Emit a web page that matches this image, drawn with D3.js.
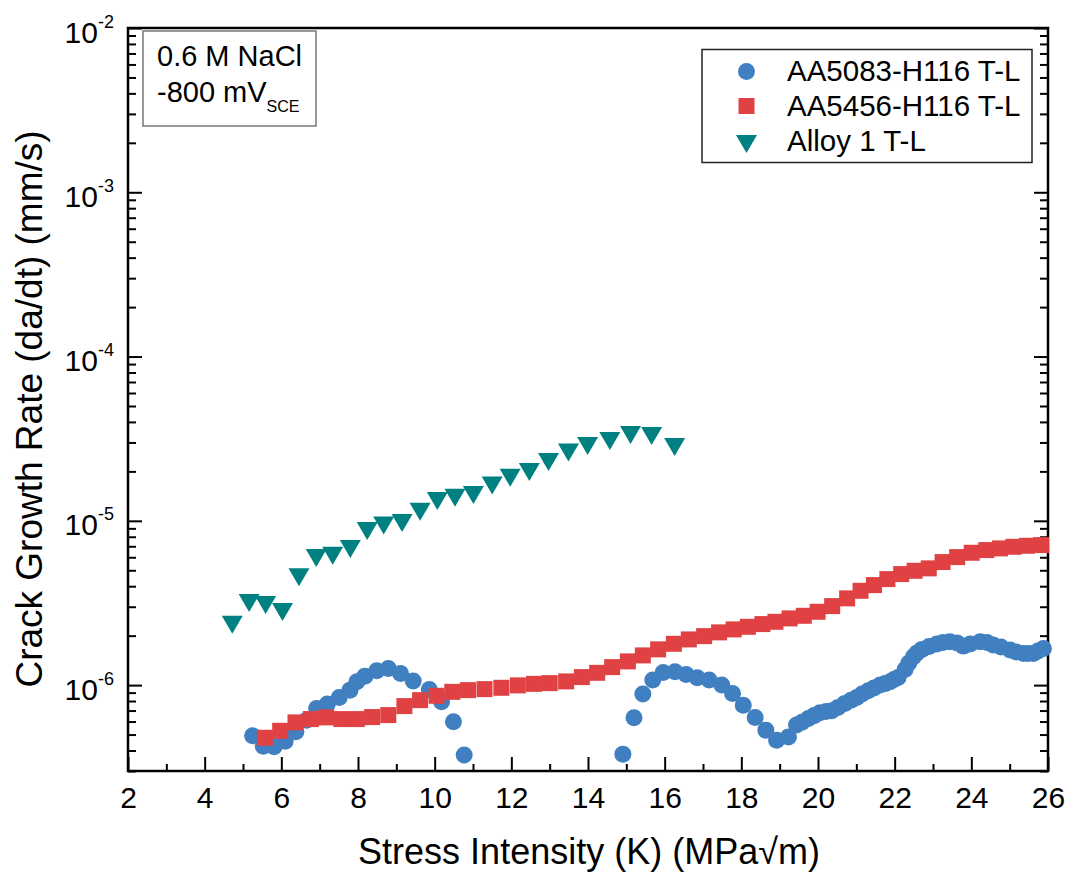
<!DOCTYPE html>
<html>
<head>
<meta charset="utf-8">
<script src="https://cdn.jsdelivr.net/npm/d3@7"></script>
<style>
  html, body { margin: 0; padding: 0; background: #fff; }
  svg text { font-family: Arial, "Liberation Sans", sans-serif; fill: #000; }
</style>
</head>
<body>
<svg id="chart" width="1067" height="875"></svg>
<script>
// Stress intensity K (MPa·√m) and crack growth rate da/dt (mm/s)
const kAA5083 = [5.25, 5.53, 5.81, 6.10, 6.38, 6.66, 6.92, 7.20, 7.51, 7.79, 7.97, 8.18, 8.49, 8.79, 9.11, 9.44, 9.86, 10.18, 10.49, 10.77,
  14.91, 15.20, 15.43, 15.69, 15.96, 16.27, 16.56, 16.85, 17.16, 17.49, 17.77, 18.05, 18.36, 18.64, 18.92, 19.23, 19.44,
  19.58, 19.75, 19.90, 20.05, 20.21, 20.36, 20.52, 20.70, 20.86, 21.01, 21.15, 21.31, 21.46, 21.62, 21.75, 21.88, 21.98, 22.09,
  22.27, 22.37, 22.49, 22.58, 22.71, 22.90, 23.10, 23.26, 23.44, 23.63, 23.79, 23.97, 24.23, 24.41, 24.57, 24.77, 25.01, 25.17,
  25.36, 25.48, 25.62, 25.74, 25.88];
const rateAA5083 = [4.91e-7, 4.25e-7, 4.21e-7, 4.56e-7, 5.20e-7, 6.12e-7, 7.21e-7, 7.66e-7, 8.41e-7, 9.32e-7, 1.047e-6, 1.134e-6, 1.222e-6, 1.264e-6, 1.178e-6, 1.058e-6, 9.41e-7, 7.91e-7, 5.98e-7, 3.75e-7,
  3.80e-7, 6.32e-7, 8.82e-7, 1.073e-6, 1.195e-6, 1.205e-6, 1.162e-6, 1.108e-6, 1.073e-6, 1.000e-6, 8.90e-7, 7.55e-7, 6.36e-7, 5.32e-7, 4.62e-7, 4.84e-7, 5.71e-7,
  5.95e-7, 6.27e-7, 6.52e-7, 6.78e-7, 6.90e-7, 6.98e-7, 7.30e-7, 7.74e-7, 8.10e-7, 8.41e-7, 8.82e-7, 9.23e-7, 9.59e-7, 1.000e-6, 1.021e-6, 1.047e-6, 1.080e-6, 1.114e-6,
  1.246e-6, 1.361e-6, 1.487e-6, 1.566e-6, 1.650e-6, 1.716e-6, 1.777e-6, 1.815e-6, 1.835e-6, 1.802e-6, 1.727e-6, 1.777e-6, 1.835e-6, 1.815e-6, 1.752e-6, 1.704e-6, 1.634e-6, 1.588e-6,
  1.560e-6, 1.555e-6, 1.560e-6, 1.611e-6, 1.672e-6];

const kAA5456 = [5.57, 5.97, 6.37, 6.77, 7.17, 7.57, 7.97, 8.37, 8.79, 9.21, 9.62, 10.05, 10.46, 10.87, 11.30, 11.74, 12.17, 12.59, 13.00,
  13.43, 13.84, 14.24, 14.63, 15.04, 15.43, 15.83, 16.24, 16.63, 17.03, 17.42, 17.80, 18.17, 18.55, 18.89, 19.26, 19.63, 19.99,
  20.37, 20.76, 21.11, 21.46, 21.81, 22.17, 22.52, 22.89, 23.25, 23.63, 24.01, 24.39, 24.75, 25.10, 25.45, 25.82];
const rateAA5456 = [4.78e-7, 5.27e-7, 5.93e-7, 6.21e-7, 6.36e-7, 6.21e-7, 6.21e-7, 6.39e-7, 6.57e-7, 7.45e-7, 8.10e-7, 8.61e-7, 9.10e-7, 9.32e-7, 9.45e-7, 9.63e-7, 9.96e-7, 1.018e-6, 1.028e-6,
  1.053e-6, 1.119e-6, 1.188e-6, 1.287e-6, 1.394e-6, 1.516e-6, 1.650e-6, 1.784e-6, 1.897e-6, 1.987e-6, 2.094e-6, 2.183e-6, 2.264e-6, 2.352e-6, 2.429e-6, 2.547e-6, 2.642e-6, 2.795e-6,
  3.027e-6, 3.373e-6, 3.751e-6, 4.063e-6, 4.420e-6, 4.741e-6, 4.966e-6, 5.136e-6, 5.610e-6, 6.016e-6, 6.390e-6, 6.636e-6, 6.796e-6, 6.950e-6, 7.048e-6, 7.118e-6];

const kAlloy1 = [4.72, 5.16, 5.59, 6.03, 6.46, 6.91, 7.34, 7.80, 8.24, 8.67, 9.15, 9.62, 10.07, 10.53, 11.01, 11.50, 11.97, 12.47, 12.97, 13.49, 13.99, 14.57, 15.11, 15.66, 16.26];
const rateAlloy1 = [2.33e-6, 3.16e-6, 3.07e-6, 2.79e-6, 4.54e-6, 5.93e-6, 6.14e-6, 6.73e-6, 8.66e-6, 9.35e-6, 9.69e-6, 1.135e-5, 1.32e-5, 1.38e-5, 1.435e-5, 1.64e-5, 1.83e-5, 1.98e-5, 2.28e-5, 2.61e-5, 2.85e-5, 3.06e-5, 3.33e-5, 3.28e-5, 2.81e-5];

const seriesNames = ["AA5083-H116 T-L", "AA5456-H116 T-L", "Alloy 1 T-L"];
const seriesColors = ["#4080C1", "#E04142", "#008080"];
const seriesShapes = ["circle", "square", "triangleDown"];

const xMajorTicks = [2, 4, 6, 8, 10, 12, 14, 16, 18, 20, 22, 24, 26];
const yDecadeTicks = [1e-6, 1e-5, 1e-4, 1e-3, 1e-2];
const yDecadeExponents = ["-6", "-5", "-4", "-3", "-2"];
const xTitle = "Stress Intensity (K) (MPa\u221Am)";
const yTitle = "Crack Growth Rate (da/dt) (mm/s)";
const noteLine1 = "0.6 M NaCl";
const noteLine2 = "-800 mV";
const noteSub = "SCE";

// ---- layout ----
const L = 128, R = 1048, T = 28, B = 771;
const svg = d3.select("#chart");

const x = d3.scaleLinear().domain([2, 26]).range([L, R]);
const y = d3.scaleLog().domain([3e-7, 1e-2]).range([B, T]);

// minor ticks
const xMinorTicks = d3.range(3, 26, 2);
const yMinorTicks = [];
for (let e = -7; e <= -3; e++) {
  for (let m = 2; m <= 9; m++) {
    const v = m * Math.pow(10, e);
    if (v >= 3e-7 && v < 1e-2) yMinorTicks.push(v);
  }
}

function styleAxis(g) {
  g.select(".domain").remove();
  g.selectAll(".tick line").attr("stroke", "#000").attr("stroke-width", 2);
}

// bottom axis
svg.append("g").attr("transform", `translate(0,${B})`)
  .call(d3.axisBottom(x).tickValues(xMinorTicks).tickSize(-7).tickFormat(""))
  .call(styleAxis);
const gx = svg.append("g").attr("transform", `translate(0,${B})`)
  .call(d3.axisBottom(x).tickValues(xMajorTicks).tickSize(-14).tickPadding(16).tickFormat(d3.format("d")))
  .call(styleAxis);
gx.selectAll(".tick text").attr("font-size", 30).attr("font-family", "Arial, 'Liberation Sans', sans-serif").attr("fill", "#000");

// left axis
svg.append("g").attr("transform", `translate(${L},0)`)
  .call(d3.axisLeft(y).tickValues(yMinorTicks).tickSize(-8).tickFormat(""))
  .call(styleAxis);
const gy = svg.append("g").attr("transform", `translate(${L},0)`)
  .call(d3.axisLeft(y).tickValues(yDecadeTicks).tickSize(-14).tickFormat(""))
  .call(styleAxis);
gy.selectAll(".tick").each(function(d, i) {
  const t = d3.select(this).append("text")
    .attr("x", -14).attr("y", 14)
    .attr("text-anchor", "end")
    .attr("font-size", 30)
    .attr("fill", "#000");
  t.append("tspan").text("10");
  t.append("tspan").attr("font-size", 18).attr("dy", -15).text(yDecadeExponents[i]);
});

// right axis (ticks only)
svg.append("g").attr("transform", `translate(${R},0)`)
  .call(d3.axisRight(y).tickValues(yMinorTicks).tickSize(-8).tickFormat(""))
  .call(styleAxis);
svg.append("g").attr("transform", `translate(${R},0)`)
  .call(d3.axisRight(y).tickValues(yDecadeTicks).tickSize(-14).tickFormat(""))
  .call(styleAxis);

// frame
svg.append("rect")
  .attr("x", L).attr("y", T).attr("width", R - L).attr("height", B - T)
  .attr("fill", "none").attr("stroke", "#000").attr("stroke-width", 2.5);

// ---- markers ----
function drawMarker(sel, shape, color) {
  if (shape === "circle") {
    sel.append("circle").attr("r", 8.5).attr("fill", color);
  } else if (shape === "square") {
    sel.append("rect").attr("x", -8).attr("y", -8).attr("width", 16).attr("height", 16).attr("fill", color);
  } else {
    sel.append("path").attr("d", "M-10.5,-9L10.5,-9L0,9Z").attr("fill", color);
  }
}

const seriesData = [
  d3.zip(kAA5083, rateAA5083),
  d3.zip(kAA5456, rateAA5456),
  d3.zip(kAlloy1, rateAlloy1)
];

const plot = svg.append("g");
seriesData.forEach((pts, si) => {
  plot.append("g").selectAll("g").data(pts).join("g")
    .attr("transform", d => `translate(${x(d[0])},${y(d[1])})`)
    .each(function() { drawMarker(d3.select(this), seriesShapes[si], seriesColors[si]); });
});

// ---- legend ----
const legend = svg.append("g");
legend.append("rect").attr("x", 702).attr("y", 49.5).attr("width", 330).attr("height", 113)
  .attr("fill", "#fff").attr("stroke", "#222").attr("stroke-width", 1.5);
const legendRowY = [71.5, 106, 144];
const legendBaseline = [81, 116, 151];
seriesNames.forEach((name, i) => {
  const row = legend.append("g").attr("transform", `translate(746.5,${legendRowY[i]})`);
  drawMarker(row, seriesShapes[i], seriesColors[i]);
  legend.append("text").attr("x", 787).attr("y", legendBaseline[i])
    .attr("font-size", 29.5).text(name);
});

// ---- condition note ----
svg.append("rect").attr("x", 143).attr("y", 31).attr("width", 173).attr("height", 95)
  .attr("fill", "#fff").attr("stroke", "#777").attr("stroke-width", 1.5);
svg.append("text").attr("x", 157).attr("y", 65.5).attr("font-size", 29).text(noteLine1);
const n2 = svg.append("text").attr("x", 157).attr("y", 102).attr("font-size", 29);
n2.append("tspan").text(noteLine2);
n2.append("tspan").attr("font-size", 16).attr("dy", 10).text(noteSub);

// ---- axis titles ----
svg.append("text").attr("x", 589).attr("y", 864).attr("text-anchor", "middle")
  .attr("font-size", 36).text(xTitle);
svg.append("text").attr("transform", `translate(42,409) rotate(-90)`)
  .attr("text-anchor", "middle").attr("font-size", 37).text(yTitle);
</script>
</body>
</html>
